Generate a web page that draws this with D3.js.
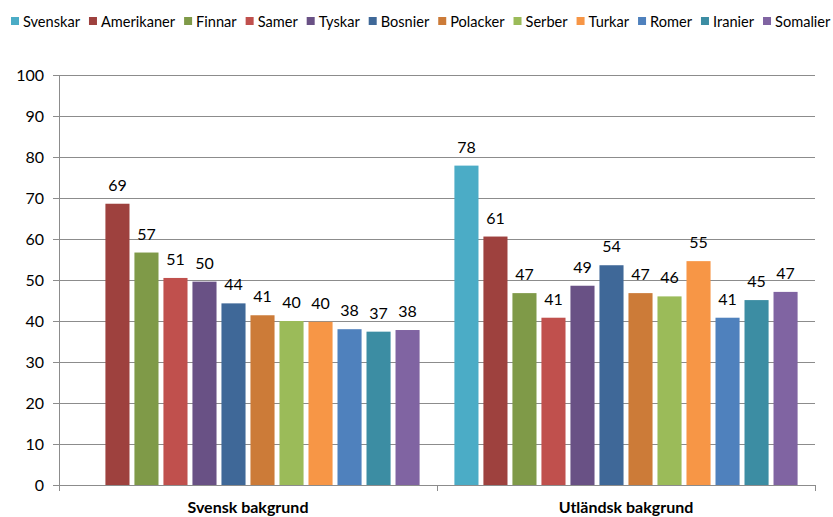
<!DOCTYPE html>
<html>
<head>
<meta charset="utf-8">
<script src="https://cdn.jsdelivr.net/npm/d3@7"></script>
<style>
  body { margin: 0; background: #fff; }
  text { font-family: Lato, "Open Sans", sans-serif; fill: #000; }
</style>
</head>
<body>
<div id="chart"></div>
<script>
const groups = ["Svensk bakgrund", "Utländsk bakgrund"];
const seriesNames = ["Svenskar", "Amerikaner", "Finnar", "Samer", "Tyskar", "Bosnier",
  "Polacker", "Serber", "Turkar", "Romer", "Iranier", "Somalier"];
const svenskValues = [null, 68.6, 56.7, 50.5, 49.6, 44.3, 41.4, 40.0, 39.8, 38.0, 37.4, 37.8];
const utlandskValues = [77.9, 60.6, 46.8, 40.8, 48.6, 53.6, 46.8, 46.0, 54.6, 40.8, 45.1, 47.1];
const colors = ["#4BACC6", "#9E413E", "#7F9A48", "#C0504D", "#695185", "#3F6898",
  "#CC7B38", "#9BBB59", "#F79646", "#4F81BD", "#3C8DA3", "#8064A2"];
const yTicks = [0, 10, 20, 30, 40, 50, 60, 70, 80, 90, 100];

const W = 833, H = 517;
const margin = { top: 75, right: 18, bottom: 32, left: 59 };
const font = "Lato, 'Open Sans', sans-serif";

const svg = d3.select("#chart").append("svg")
  .attr("width", W).attr("height", H);

const x0 = d3.scaleBand().domain(groups).range([margin.left, W - margin.right]).padding(0);
const x1 = d3.scaleBand().domain(seriesNames).range([0, x0.bandwidth()])
  .paddingInner(0.17).paddingOuter(0.6);
const y = d3.scaleLinear().domain([0, 100]).range([H - margin.bottom, margin.top]);

// gridlines
svg.append("g").selectAll("line")
  .data(yTicks.filter(d => d > 0))
  .enter().append("line")
  .attr("x1", margin.left).attr("x2", W - margin.right)
  .attr("y1", d => y(d)).attr("y2", d => y(d))
  .attr("stroke", "#8c8c8c").attr("stroke-width", 1).attr("shape-rendering", "crispEdges");

// y axis
const yAxis = svg.append("g")
  .attr("transform", `translate(${margin.left},0)`)
  .call(d3.axisLeft(y).tickValues(yTicks).tickSize(6).tickPadding(9));
yAxis.select(".domain").attr("stroke", "#8c8c8c");
yAxis.selectAll(".tick line").attr("stroke", "#8c8c8c");
yAxis.selectAll("text").attr("font-size", 16).attr("fill", "#000")
  .attr("font-family", font);

// bars
const table = groups.map((g, i) => ({
  group: g,
  values: seriesNames.map((s, j) => ({ name: s, value: (i === 0 ? svenskValues : utlandskValues)[j], color: colors[j] }))
}));

const gGroup = svg.selectAll(".grp").data(table).enter().append("g")
  .attr("class", "grp")
  .attr("transform", d => `translate(${x0(d.group)},0)`);

gGroup.selectAll("rect")
  .data(d => d.values.filter(v => v.value != null))
  .enter().append("rect")
  .attr("x", d => x1(d.name))
  .attr("width", x1.bandwidth())
  .attr("y", d => y(d.value))
  .attr("height", d => y(0) - y(d.value))
  .attr("fill", d => d.color);

gGroup.selectAll(".lbl")
  .data(d => d.values.filter(v => v.value != null))
  .enter().append("text")
  .attr("class", "lbl")
  .attr("x", d => x1(d.name) + x1.bandwidth() / 2)
  .attr("y", d => y(d.value) - 13)
  .attr("text-anchor", "middle")
  .attr("font-size", 16)
  .attr("fill", "#222")
  .text(d => Math.round(d.value));

// x axis
const xAxis = svg.append("g")
  .attr("transform", `translate(0,${y(0)})`);
xAxis.append("line")
  .attr("x1", margin.left).attr("x2", W - margin.right)
  .attr("stroke", "#8c8c8c").attr("shape-rendering", "crispEdges");
const bounds = [margin.left, ...groups.map(g => x0(g) + x0.bandwidth())];
xAxis.selectAll(".xt").data(bounds).enter().append("line")
  .attr("x1", d => d).attr("x2", d => d).attr("y1", 0).attr("y2", 6)
  .attr("stroke", "#8c8c8c").attr("shape-rendering", "crispEdges");
xAxis.selectAll(".xl").data(groups).enter().append("text")
  .attr("x", d => x0(d) + x0.bandwidth() / 2)
  .attr("y", 28)
  .attr("text-anchor", "middle")
  .attr("font-size", 16).attr("font-weight", "bold")
  .text(d => d);

// legend: fit the row into the width, shrinking the font if needed
const legendLeft = 11, legendRight = W - 2;
const sw = 8, swGap = 4, itemGap = 9;
let fs = 15.5;
const legend = svg.append("g").attr("transform", `translate(${legendLeft},21)`);
const items = legend.selectAll("g").data(seriesNames).enter().append("g");
items.append("rect").attr("x", 0).attr("y", -4).attr("width", sw).attr("height", sw)
  .attr("fill", (d, i) => colors[i]);
const labels = items.append("text").attr("x", sw + swGap).attr("y", 5.5)
  .attr("font-size", fs).text(d => d);
let textTotal = d3.sum(labels.nodes(), n => n.getComputedTextLength());
const fixed = seriesNames.length * (sw + swGap + itemGap) - itemGap;
const avail = legendRight - legendLeft - fixed;
if (textTotal > avail) {
  fs = fs * avail / textTotal;
  labels.attr("font-size", fs);
}
let lx = 0;
items.each(function () {
  d3.select(this).attr("transform", `translate(${lx},0)`);
  lx += sw + swGap + d3.select(this).select("text").node().getComputedTextLength() + itemGap;
});
</script>
</body>
</html>
